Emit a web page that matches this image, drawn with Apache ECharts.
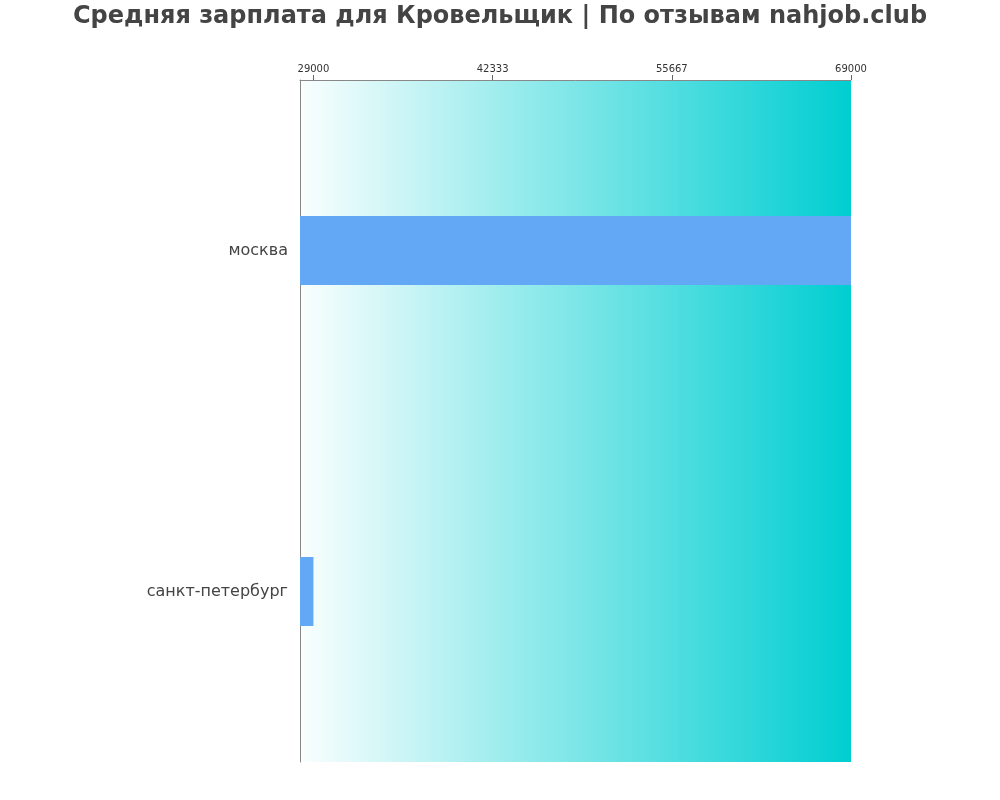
<!DOCTYPE html>
<html lang="ru">
<head>
    <meta charset="UTF-8">
    <title>Средняя зарплата</title>
    <script src="https://cdn.jsdelivr.net/npm/echarts@6.0.0/dist/echarts.min.js"></script>
    <style>
        body { margin: 0; background: #fff; }
    </style>
</head>
<body>
<div id="main" style="width: 1000px;height: 800px"></div>
<script type="text/javascript">
  var cities = ['москва', 'санкт-петербург'];
  var salaries = [69000, 29000];
  var tickValues = [29000, 42333, 55667, 69000];

  var myChart = echarts.init(document.getElementById('main'));
  var option = {
    animation: false,
    title: {
      text: 'Средняя зарплата для Кровельщик | По отзывам nahjob.club',
      left: 'center',
      top: 0,
      textStyle: {
        fontFamily: 'DejaVu Sans',
        fontSize: 24,
        fontWeight: 'bold',
        color: '#444'
      }
    },
    grid: {
      left: 300,
      right: 149,
      top: 80,
      bottom: 38,
      show: true,
      borderWidth: 0,
      backgroundColor: new echarts.graphic.LinearGradient(0, 0, 1, 0, [
        { offset: 0, color: '#fafefe' },
        { offset: 1, color: '#00ced1' }
      ])
    },
    xAxis: {
      type: 'value',
      position: 'top',
      min: 28000,
      max: 69000,
      splitLine: { show: false },
      axisLine: { show: true, lineStyle: { color: '#888' } },
      axisTick: { show: true, length: 5, customValues: tickValues, lineStyle: { color: '#666' } },
      axisLabel: {
        customValues: tickValues,
        formatter: function (v) { return String(Math.round(v)); },
        fontFamily: 'DejaVu Sans',
        fontSize: 10,
        color: '#333',
        margin: 6
      }
    },
    yAxis: {
      type: 'category',
      inverse: true,
      data: cities,
      axisLine: { show: true, lineStyle: { color: '#888' } },
      axisTick: { show: false },
      axisLabel: {
        fontFamily: 'DejaVu Sans',
        fontSize: 16,
        color: '#444',
        margin: 12
      }
    },
    series: [{
      type: 'bar',
      data: salaries,
      barWidth: 69,
      itemStyle: { color: '#63a8f5' }
    }]
  };
  myChart.setOption(option);
</script>
</body>
</html>
